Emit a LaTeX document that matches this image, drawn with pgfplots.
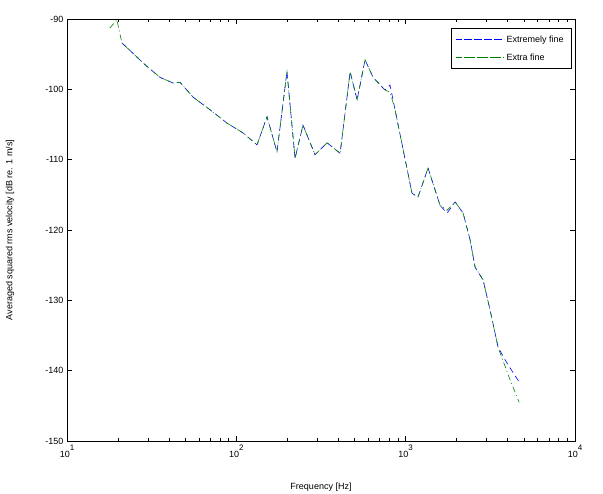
\documentclass[border=0pt]{standalone}
\usepackage{fontspec}
\setmainfont{Liberation Sans}
\usepackage{pgfplots}
\pgfplotsset{compat=1.18}
\definecolor{mblue}{rgb}{0,0,1}
\definecolor{mgreen}{rgb}{0,0.5,0}
\begin{document}
\begin{tikzpicture}[x=1pt,y=1pt]
\useasboundingbox (-67,-53) rectangle (536,441);
\begin{axis}[
 at={(0,0)}, anchor=south west,
 scale only axis, width=508pt, height=422pt,
 xmode=log, xmin=10, xmax=10000, ymin=-150, ymax=-90,
 ytick={-150,-140,...,-90},
 xtick={10,100,1000,10000},
 minor xtick={20,30,40,50,60,70,80,90,200,300,400,500,600,700,800,900,2000,3000,4000,5000,6000,7000,8000,9000},
 xticklabels={{10\raisebox{1.6ex}{\footnotesize 1}},{10\raisebox{1.6ex}{\footnotesize 2}},{10\raisebox{1.6ex}{\footnotesize 3}},{10\raisebox{1.6ex}{\footnotesize 4}}},
 /pgf/number format/assume math mode=true,
 tick label style={font=\fontsize{9}{10}\selectfont},
 label style={font=\fontsize{9}{10}\selectfont},
 tick align=inside, major tick length=5pt, minor tick length=3pt,
 xtick pos=both, ytick pos=both,
 tick style={black, line width=0.4pt},
 axis line style={black, line width=0.5pt},
 xlabel={Frequency [Hz]},
 ylabel={Averaged squared rms velocity [dB re. 1 m/s]},
 xlabel style={at={(axis description cs:0.5,-0.109)}, anchor=center},
 ylabel style={at={(axis description cs:-0.112,0.5)}, anchor=center},
 legend style={at={(axis description cs:0.992,0.978)}, anchor=north east, draw=black, font=\fontsize{9}{10}\selectfont, row sep=6pt, inner xsep=5pt, inner ysep=5pt},
 legend cell align=left,
 legend image code/.code={\path (0pt,0pt) -- (48pt,0pt); \draw[#1] (8pt,0pt) -- (48pt,0pt);},
]
\addplot[mblue, dash pattern=on 6pt off 4pt, line width=0.6pt] coordinates {
(21.1,-93.4) (28.9,-96.5) (35.4,-98.3) (42.3,-99.1) (46.5,-99.0) (55.5,-101.1)
(69.9,-102.9) (88.1,-104.8) (109.6,-106.2) (132.5,-107.9) (151.8,-103.9)
(173.8,-108.9) (199.1,-97.5) (222.2,-109.8) (247.6,-105.1) (291.6,-109.3)
(343.5,-107.6) (410.1,-109.1) (469.9,-97.5) (516.6,-101.5) (575.8,-95.8)
(641.8,-98.3) (755.1,-100.1) (808.7,-99.4) (865.5,-102.9) (1090.6,-114.8)
(1183.4,-115.3) (1356,-111.2) (1596,-116.5) (1757,-117.6) (1959,-116.0)
(2184,-117.6) (2401,-121.4) (2570,-125.3) (2865,-127.1) (3153,-131.4)
(3516,-136.7) (4030,-139.2) (4677,-141.6)
};
\addlegendentry{Extremely fine}
\addplot[mgreen, dash pattern=on 6pt off 3pt on 1pt off 3pt, line width=0.6pt] coordinates {
(17.9,-91.3) (19.7,-90.1) (21.1,-93.4) (28.9,-96.5) (35.4,-98.3) (42.3,-99.1) (46.5,-99.0) (55.5,-101.1)
(69.9,-102.9) (88.1,-104.8) (109.6,-106.2) (132.5,-107.9) (151.8,-103.9)
(173.8,-108.9) (199.1,-97.5) (222.2,-109.8) (247.6,-105.1) (291.6,-109.3)
(343.5,-107.6) (410.1,-109.1) (469.9,-97.5) (516.6,-101.5) (575.8,-95.8)
(641.8,-98.3) (755.1,-100.1) (808.7,-100.4) (865.5,-102.9) (1090.6,-114.8)
(1183.4,-115.3) (1356,-111.2) (1596,-116.5) (1757,-117.2) (1959,-116.0)
(2184,-117.6) (2401,-121.4) (2570,-125.3) (2865,-127.1) (3153,-131.4)
(3516,-136.7) (4030,-140.6) (4677,-144.5)
};
\addlegendentry{Extra fine}
\end{axis}
\end{tikzpicture}
\end{document}
